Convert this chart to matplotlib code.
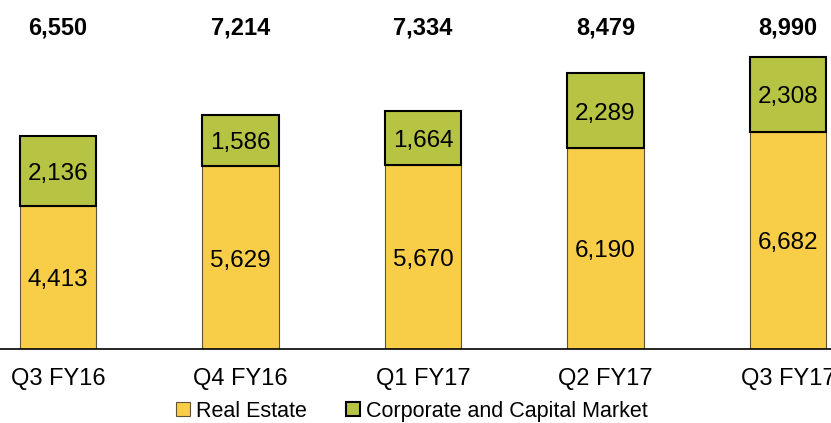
import matplotlib
matplotlib.use("Agg")
import matplotlib.pyplot as plt
from matplotlib.patches import Rectangle

categories = ["Q3 FY16", "Q4 FY16", "Q1 FY17", "Q2 FY17", "Q3 FY17"]
real_estate = [4413, 5629, 5670, 6190, 6682]
corporate = [2136, 1586, 1664, 2289, 2308]
totals = [6550, 7214, 7334, 8479, 8990]

plt.rcParams['font.family'] = ['Liberation Sans', 'DejaVu Sans']

W, H = 831, 423
fig = plt.figure(figsize=(W / 100, H / 100), dpi=100)
ax = fig.add_axes([0, 74 / H, 1, 349 / H])

yellow = "#F8CD48"
green = "#B7C342"
x = list(range(len(categories)))
bw = 0.42

ax.bar(x, real_estate, width=bw, color=yellow, edgecolor="#5b5436", linewidth=0.8, zorder=2)
ax.bar(x, corporate, width=bw, bottom=real_estate, color=green, edgecolor="black", linewidth=1.5, zorder=3)

for i in x:
    ax.annotate(f"{real_estate[i]:,}", (i, real_estate[i] / 2), xytext=(0, -3), textcoords="offset pixels",
                ha="center", va="center", fontsize=17.5, zorder=4)
    ax.annotate(f"{corporate[i]:,}", (i, real_estate[i] + corporate[i] / 2), xytext=(0, -3),
                textcoords="offset pixels", ha="center", va="center", fontsize=17.5, zorder=4)

ax.set_xlim(-58 / 182.5, 4 + (W - 788) / 182.5)
ax.set_ylim(0, 349 / 0.0325)

for i in x:
    ax.text(i, 1 - 27.5 / 349, f"{totals[i]:,}", transform=ax.get_xaxis_transform(),
            ha="center", va="center", fontsize=17, fontweight="bold")

ax.set_xticks(x)
ax.set_xticklabels(categories, fontsize=17)
ax.tick_params(axis="x", length=0, pad=14)
ax.set_yticks([])
for s in ["top", "right", "left"]:
    ax.spines[s].set_visible(False)
ax.spines["bottom"].set_linewidth(1.2)
ax.spines["bottom"].set_zorder(5)

handles = [Rectangle((0, 0), 1, 1, facecolor=yellow, edgecolor="#5b5436", linewidth=0.8),
           Rectangle((0, 0), 1, 1, facecolor=green, edgecolor="black", linewidth=1.5)]
fig.legend(handles, ["Real Estate", "Corporate and Capital Market"], ncol=2, fontsize=15.5,
           loc="center", bbox_to_anchor=(412 / W, 1 - 411 / H), frameon=False,
           handlelength=0.64, handleheight=0.64, handletextpad=0.3, columnspacing=1.8,
           borderpad=0, borderaxespad=0)

fig.savefig("out.png", dpi=100)
